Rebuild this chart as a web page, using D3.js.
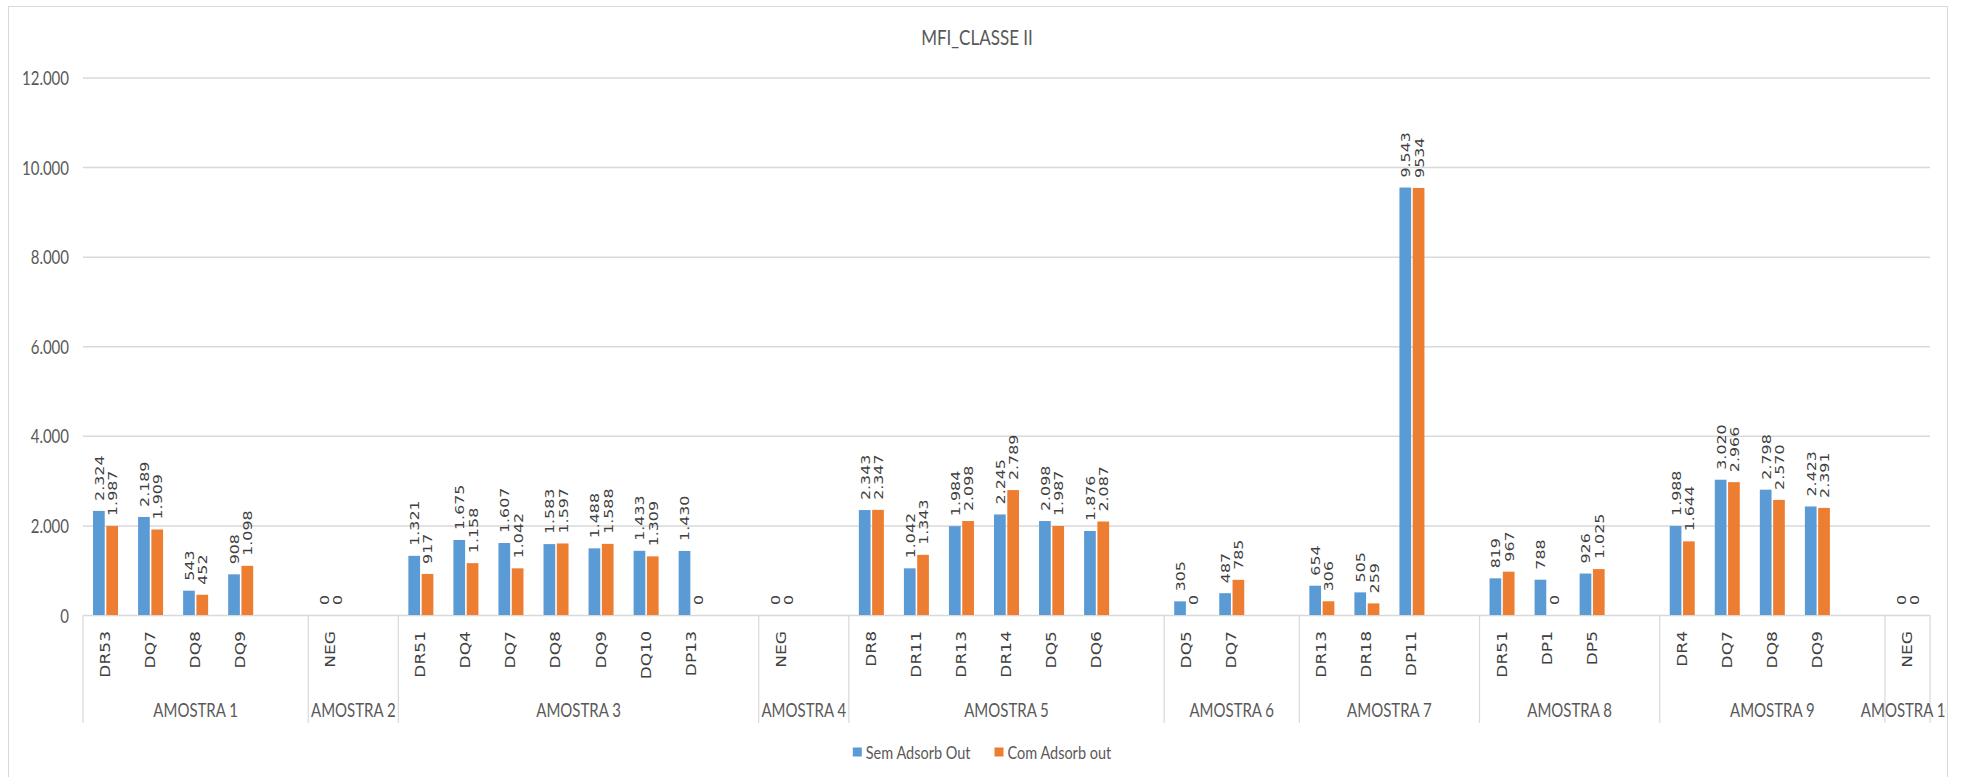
<!DOCTYPE html>
<html>
<head>
<meta charset="utf-8">
<script src="https://cdn.jsdelivr.net/npm/d3@7"></script>
<style>
  html, body { margin: 0; padding: 0; background: #fff; overflow: hidden; }
</style>
</head>
<body>
<svg id="chart" width="1961" height="777"></svg>
<script>
// ---- data ----
const chartTitle = "MFI_CLASSE II";
const groups = ["AMOSTRA 1", "AMOSTRA 2", "AMOSTRA 3", "AMOSTRA 4", "AMOSTRA 5",
                "AMOSTRA 6", "AMOSTRA 7", "AMOSTRA 8", "AMOSTRA 9", "AMOSTRA 10"];
const categories = [
  ["DR53", "DQ7", "DQ8", "DQ9"],
  ["NEG"],
  ["DR51", "DQ4", "DQ7", "DQ8", "DQ9", "DQ10", "DP13"],
  ["NEG"],
  ["DR8", "DR11", "DR13", "DR14", "DQ5", "DQ6"],
  ["DQ5", "DQ7"],
  ["DR13", "DR18", "DP11"],
  ["DR51", "DP1", "DP5"],
  ["DR4", "DQ7", "DQ8", "DQ9"],
  ["NEG"]
];
const semAdsorbOut = [
  [2324, 2189, 543, 908],
  [0],
  [1321, 1675, 1607, 1583, 1488, 1433, 1430],
  [0],
  [2343, 1042, 1984, 2245, 2098, 1876],
  [305, 487],
  [654, 505, 9543],
  [819, 788, 926],
  [1988, 3020, 2798, 2423],
  [0]
];
const comAdsorbOut = [
  [1987, 1909, 452, 1098],
  [0],
  [917, 1158, 1042, 1597, 1588, 1309, 0],
  [0],
  [2347, 1343, 2098, 2789, 1987, 2087],
  [0, 785],
  [306, 259, 9534],
  [967, 0, 1025],
  [1644, 2966, 2570, 2391],
  [0]
];
const seriesNames = ["Sem Adsorb Out", "Com Adsorb out"];
const seriesColors = ["#5B9BD5", "#ED7D31"];
const yTicks = [0, 2000, 4000, 6000, 8000, 10000, 12000];
// one label in the source sheet is shown without a thousands separator
const unseparatedLabels = [{ series: 1, group: "AMOSTRA 7", category: "DP11" }];

// ---- layout ----
const W = 1961, H = 777;
const plotLeft = 83, plotRight = 1930, plotBottom = 615, plotTop = 77.5;
const axisBottom = 723;
const S = 1.22; // vertical stretch applied to lettering
const sansUI = "Lato, 'Open Sans', sans-serif";
const sansLabel = "'DejaVu Sans', Verdana, sans-serif";

const svg = d3.select("#chart");
svg.append("rect").attr("width", W).attr("height", H).attr("fill", "#fff");

const defs = svg.append("defs");
defs.append("clipPath").attr("id", "frameClip")
  .append("rect").attr("x", 9).attr("y", 7).attr("width", 1937).attr("height", 800);

svg.append("rect")
  .attr("x", 8.5).attr("y", 6.5).attr("width", 1939).attr("height", 820)
  .attr("fill", "none").attr("stroke", "#d9d9d9").attr("stroke-width", 1);

// slots along the category axis: each sample's markers followed by an empty slot
const slots = [];
groups.forEach((g, gi) => {
  categories[gi].forEach((c, ci) => {
    slots.push({ id: `${gi}-${ci}`, gi, group: g, category: c,
                 values: [semAdsorbOut[gi][ci], comAdsorbOut[gi][ci]] });
  });
  if (gi < groups.length - 1) slots.push({ id: `${gi}-gap`, gi, group: g, category: null });
});

const x = d3.scaleBand().domain(slots.map(d => d.id)).range([plotLeft, plotRight]);
const xs = d3.scaleBand().domain([0, 1]).range([-12.5, 12.5]).paddingInner(0.12);
const y = d3.scaleLinear().domain([0, 12000]).range([plotBottom, plotTop]);

const ptBR = d3.formatLocale({ decimal: ",", thousands: ".", grouping: [3], currency: ["R$", ""] });
const fmt = ptBR.format(",d");

function stretch(tx, ty, rotate) {
  return `translate(${tx},${ty}) scale(1,${S})` + (rotate ? " rotate(-90)" : "");
}

// ---- title ----
svg.append("text")
  .attr("transform", stretch(977, 37))
  .attr("text-anchor", "middle").attr("dominant-baseline", "central")
  .attr("font-family", sansUI).attr("font-size", 17).attr("fill", "#595959")
  .text(chartTitle);

// ---- value axis with gridlines ----
const yAxis = svg.append("g")
  .attr("transform", `translate(${plotLeft},0)`)
  .call(d3.axisLeft(y).tickValues(yTicks).tickFormat(fmt)
    .tickSizeInner(-(plotRight - plotLeft)).tickSizeOuter(0).tickPadding(14));
yAxis.select(".domain").remove();
yAxis.selectAll(".tick line").attr("stroke", "#d9d9d9").attr("stroke-width", 1.5);
yAxis.selectAll(".tick text")
  .attr("dy", null).attr("dominant-baseline", "central")
  .attr("transform", `scale(1,${S})`)
  .attr("font-family", sansUI).attr("font-size", 15).attr("fill", "#595959");

// ---- bars ----
const barData = [];
slots.filter(d => d.category !== null).forEach(d => {
  d.values.forEach((v, si) => barData.push({ slot: d, si, v }));
});

svg.append("g").selectAll("rect").data(barData).join("rect")
  .attr("x", d => x(d.slot.id) + x.bandwidth() / 2 + xs(d.si))
  .attr("width", xs.bandwidth())
  .attr("y", d => y(d.v))
  .attr("height", d => y(0) - y(d.v))
  .attr("fill", d => seriesColors[d.si]);

// ---- value labels ----
function labelText(d) {
  const plain = unseparatedLabels.some(u => u.series === d.si &&
    u.group === d.slot.group && u.category === d.slot.category);
  return plain ? String(d.v) : fmt(d.v);
}
svg.append("g").selectAll("text").data(barData).join("text")
  .attr("transform", d => stretch(x(d.slot.id) + x.bandwidth() / 2 + xs(d.si) + xs.bandwidth() / 2 + 0.5,
                                  y(d.v) - 10, true))
  .attr("text-anchor", "start").attr("dominant-baseline", "central")
  .attr("font-family", sansLabel).attr("font-size", 13).attr("fill", "#404040")
  .text(labelText);

// ---- category axis ----
const catAxis = svg.append("g");
const groupStarts = groups.map((g, gi) => x(slots.find(s => s.gi === gi).id));
const groupEnds = groupStarts.slice(1).concat([plotRight]);
catAxis.selectAll("line.sep").data(groupStarts.concat([plotRight])).join("line")
  .attr("class", "sep")
  .attr("x1", d => d).attr("x2", d => d)
  .attr("y1", plotBottom).attr("y2", axisBottom)
  .attr("stroke", "#d9d9d9").attr("stroke-width", 1.2);

catAxis.selectAll("text.cat").data(slots.filter(d => d.category !== null)).join("text")
  .attr("class", "cat")
  .attr("transform", d => stretch(x(d.id) + x.bandwidth() / 2, 631, true))
  .attr("text-anchor", "end").attr("dominant-baseline", "central")
  .attr("font-family", sansLabel).attr("font-size", 14).attr("fill", "#404040")
  .text(d => d.category);

catAxis.append("g").attr("clip-path", "url(#frameClip)")
  .selectAll("text.grp").data(groups).join("text")
  .attr("class", "grp")
  .attr("transform", (d, i) => stretch((groupStarts[i] + groupEnds[i]) / 2, 710))
  .attr("text-anchor", "middle").attr("dominant-baseline", "central")
  .attr("font-family", sansUI).attr("font-size", 15).attr("fill", "#595959")
  .text(d => d);

// ---- legend ----
const legend = svg.append("g");
const items = legend.selectAll("g").data(seriesNames).join("g");
items.append("rect").attr("width", 9).attr("height", 9).attr("y", -4.5)
  .attr("fill", (d, i) => seriesColors[i]);
items.append("text")
  .attr("transform", stretch(13, 0))
  .attr("dominant-baseline", "central")
  .attr("font-family", sansUI).attr("font-size", 14.5).attr("fill", "#595959")
  .text(d => d);
const widths = items.nodes().map(n => 13 + d3.select(n).select("text").node().getComputedTextLength());
const itemGap = 24;
const totalW = d3.sum(widths) + itemGap * (widths.length - 1);
let cursor = 982 - totalW / 2;
items.attr("transform", (d, i) => {
  const t = `translate(${cursor},752)`;
  cursor += widths[i] + itemGap;
  return t;
});
</script>
</body>
</html>
